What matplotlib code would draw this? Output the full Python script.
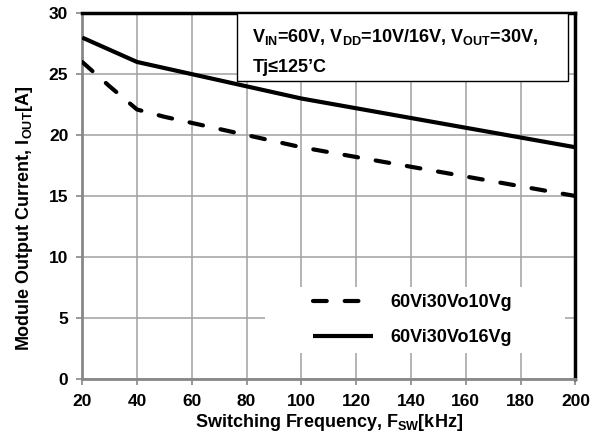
import matplotlib
matplotlib.use('Agg')
import matplotlib.pyplot as plt
from matplotlib.patches import Rectangle

plt.rcParams['font.family'] = 'Liberation Sans'
plt.rcParams['font.weight'] = 'bold'
plt.rcParams['mathtext.default'] = 'regular'

# switching frequency [kHz]
freq = [20, 30, 40, 50, 60, 80, 100, 120, 140, 160, 180, 200]
# module output current [A]
i_10vg = [26.0, 24.0, 22.1, 21.5, 21.0, 20.0, 19.0, 18.2, 17.4, 16.6, 15.8, 15.0]
i_16vg = [28.0, 27.0, 26.0, 25.5, 25.0, 24.0, 23.0, 22.2, 21.4, 20.6, 19.8, 19.0]
labels = ['60Vi30Vo10Vg', '60Vi30Vo16Vg']

fig = plt.figure(figsize=(6, 4.4), dpi=100)
ax = fig.add_axes([0.137, 0.139, 0.822, 0.831])

ax.plot(freq, i_10vg, color='black', linewidth=3, linestyle=(0, (3.3, 4.3)),
        dash_capstyle='round', label=labels[0], zorder=3)
ax.plot(freq, i_16vg, color='black', linewidth=3, solid_capstyle='butt',
        label=labels[1], zorder=3)

ax.set_xlim(20, 200)
ax.set_ylim(0, 30)
ax.set_xticks(range(20, 201, 20))
ax.set_yticks(range(0, 31, 5))
ax.grid(True, color='#a0a0a0', linewidth=1.1)
ax.set_axisbelow(True)
ax.tick_params(axis='both', labelsize=12.5, color='#888888', length=4, width=1.2)
ax.tick_params(axis='x', pad=7)
ax.tick_params(axis='y', pad=6)

for s in ['left', 'bottom']:
    ax.spines[s].set_color('#888888')
    ax.spines[s].set_linewidth(2)
for s in ['top', 'right']:
    ax.spines[s].set_color('black')
    ax.spines[s].set_linewidth(2.5)

ax.set_xlabel('Switching Frequency, F$_{SW}$[kHz]', fontsize=13, fontweight='bold', labelpad=2)
ax.set_ylabel('Module Output Current, I$_{OUT}$[A]', fontsize=13, fontweight='bold')
ax.yaxis.set_label_coords(-0.095, 0.44)

# condition box
ax.add_patch(Rectangle((0.314, 0.815), 0.671, 0.185, transform=ax.transAxes,
                       facecolor='white', edgecolor='black', linewidth=1, zorder=4))
ax.text(0.345, 0.935, 'V$_{IN}$=60V, V$_{DD}$=10V/16V, V$_{OUT}$=30V,',
        transform=ax.transAxes, fontsize=13, fontweight='bold', va='center', zorder=5)
ax.text(0.345, 0.852, 'Tj\u2264125\u2019C', transform=ax.transAxes,
        fontsize=13, fontweight='bold', va='center', zorder=5)

# legend background
ax.add_patch(Rectangle((0.371, 0.072), 0.607, 0.18, transform=ax.transAxes,
                       facecolor='white', edgecolor='none', zorder=2))
leg = ax.legend(loc='center', bbox_to_anchor=(0.67, 0.16), frameon=False,
                fontsize=13, handlelength=3.3, handletextpad=1.0,
                labelspacing=1.0)

fig.savefig('out.png', dpi=100)
